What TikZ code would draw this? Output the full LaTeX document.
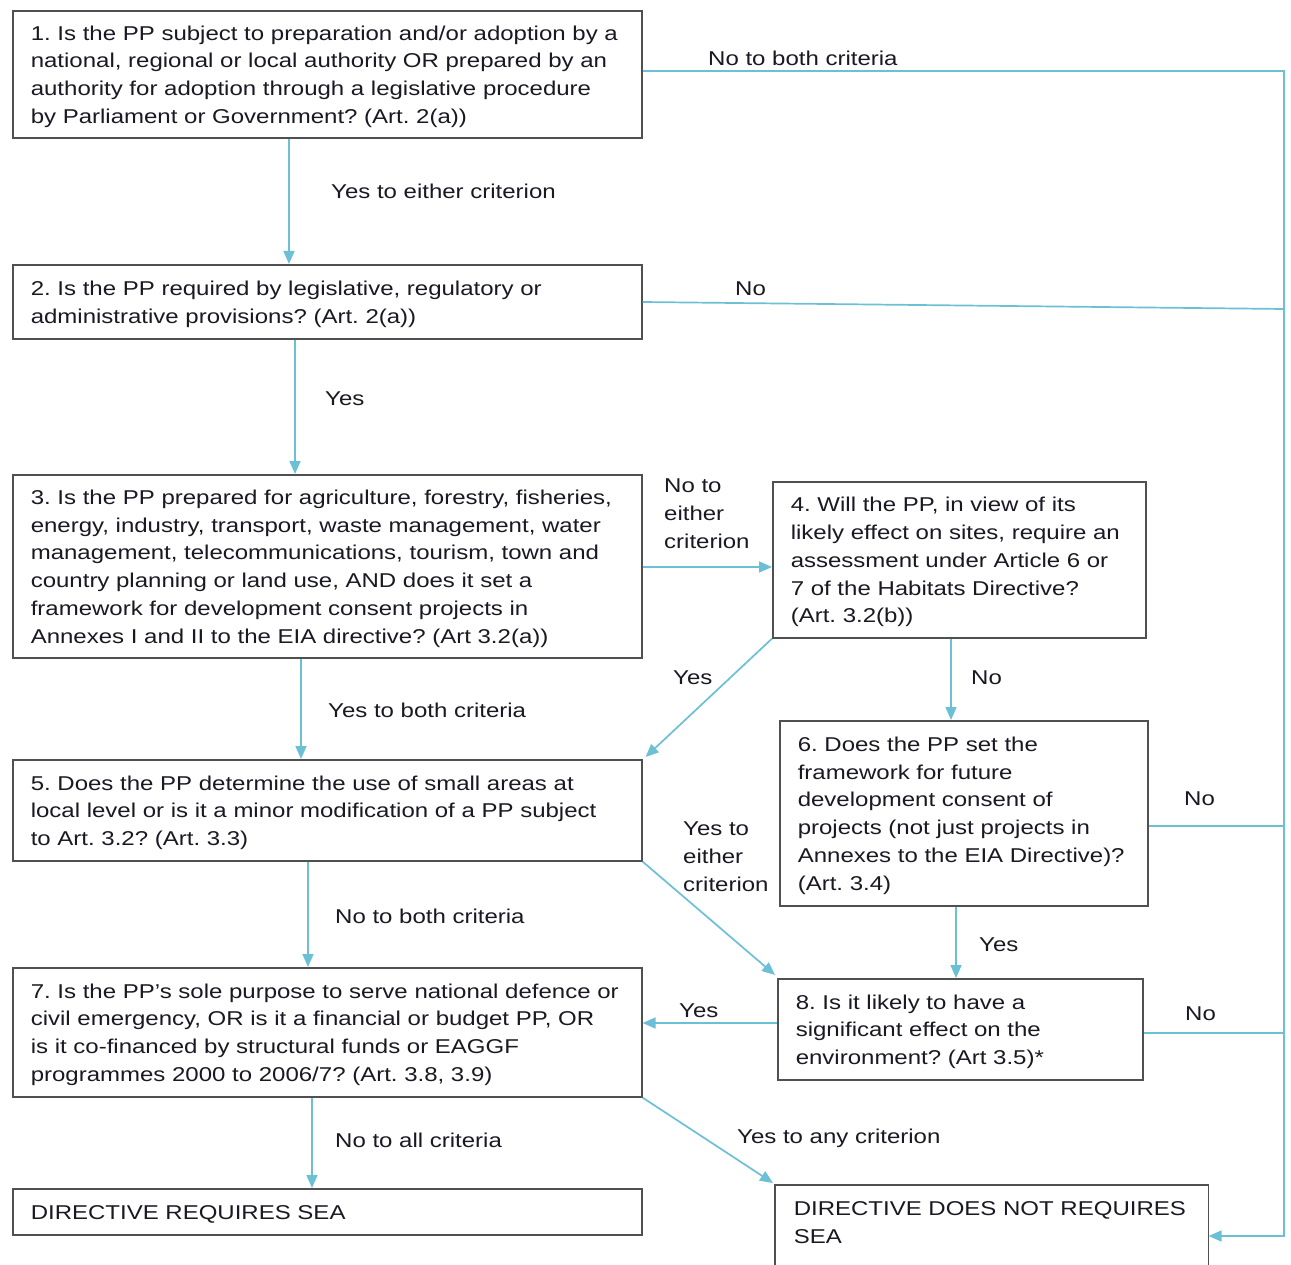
\documentclass[tikz,border=0pt]{standalone}
\usepackage{fontspec}
\setmainfont{Liberation Sans}[FakeStretch=1.2]
\usetikzlibrary{arrows.meta,calc}
\definecolor{lineblue}{RGB}{108,192,214}
\definecolor{boxgray}{RGB}{80,80,80}
\definecolor{txt}{RGB}{25,25,35}
\newcommand\boxtxt[2]{\raisebox{-2pt}[\height][\depth]{\makebox[#1][l]{\begin{tabular}{@{}l@{}}#2\end{tabular}}}}
\frenchspacing
\begin{document}
\begin{tikzpicture}[x=1pt,y=-1pt,
  font=\fontsize{20}{27.7}\selectfont\frenchspacing, text=txt,
  qbox/.style={draw=boxgray, line width=1.6pt, inner xsep=18pt, inner ysep=0pt, anchor=north west},
  conn/.style={draw=lineblue, line width=1.7pt},
  arr/.style={conn, -{Triangle[length=13pt,width=11pt]}},
  lbl/.style={inner sep=0pt, anchor=west}]
\useasboundingbox[fill=white] (0,0) rectangle (1291,1265);

% boxes
\node[qbox, minimum width=629pt, minimum height=127pt] (b1) at (12,10) {\boxtxt{593pt}{1. Is the PP subject to preparation and/or adoption by a\\national, regional or local authority OR prepared by an\\authority for adoption through a legislative procedure\\by Parliament or Government? (Art. 2(a))}};
\node[qbox, minimum width=629pt, minimum height=74pt] (b2) at (12,264) {\boxtxt{593pt}{2. Is the PP required by legislative, regulatory or\\administrative provisions? (Art. 2(a))}};
\node[qbox, minimum width=629pt, minimum height=183pt] (b3) at (12,474) {\boxtxt{593pt}{3. Is the PP prepared for agriculture, forestry, fisheries,\\energy, industry, transport, waste management, water\\management, telecommunications, tourism, town and\\country planning or land use, AND does it set a\\framework for development consent projects in\\Annexes I and II to the EIA directive? (Art 3.2(a))}};
\node[qbox, minimum width=373pt, minimum height=156pt] (b4) at (772,481) {\boxtxt{337pt}{4. Will the PP, in view of its\\likely effect on sites, require an\\assessment under Article 6 or\\7 of the Habitats Directive?\\(Art. 3.2(b))}};
\node[qbox, minimum width=629pt, minimum height=101pt] (b5) at (12,759) {\boxtxt{593pt}{5. Does the PP determine the use of small areas at\\local level or is it a minor modification of a PP subject\\to Art. 3.2? (Art. 3.3)}};
\node[qbox, minimum width=368pt, minimum height=185pt] (b6) at (779,720) {\boxtxt{332pt}{6. Does the PP set the\\framework for future\\development consent of\\projects (not just projects in\\Annexes to the EIA Directive)?\\(Art. 3.4)}};
\node[qbox, minimum width=629pt, minimum height=129pt] (b7) at (12,967) {\boxtxt{593pt}{7. Is the PP's sole purpose to serve national defence or\\civil emergency, OR is it a financial or budget PP, OR\\is it co-financed by structural funds or EAGGF\\programmes 2000 to 2006/7? (Art. 3.8, 3.9)}};
\node[qbox, minimum width=365pt, minimum height=101pt] (b8) at (777,978) {\boxtxt{329pt}{8. Is it likely to have a\\significant effect on the\\environment? (Art 3.5)*}};
\node[qbox, minimum width=629pt, minimum height=46pt] (b9) at (12,1188) {\boxtxt{593pt}{DIRECTIVE REQUIRES SEA}};
\node[qbox, draw=none, minimum width=432pt, minimum height=73pt] (b10) at (775,1185) {\boxtxt{396pt}{DIRECTIVE DOES NOT REQUIRES\\SEA}};
\draw[draw=boxgray, line width=1.6pt] (b10.north west |- 0,1275) -- (b10.north west) -- (b10.north east) -- (b10.north east |- 0,1275);

% right-hand collector line
\coordinate (rt) at (1284,71);
\coordinate (rb) at (1284,1236);
\draw[arr] (b1.east |- rt) -- (rt) -- (rb) -- (b10.east |- rb);
\draw[conn] (b2.east |- 0,302) -- (1284,309);
\draw[conn] (b6.east |- 0,826) -- (1284,826);
\draw[conn] (b8.east |- 0,1033) -- (1284,1033);

% vertical arrows
\draw[arr] (289,0 |- b1.south) -- (289,0 |- b2.north);
\draw[arr] (295,0 |- b2.south) -- (295,0 |- b3.north);
\draw[arr] (301,0 |- b3.south) -- (301,0 |- b5.north);
\draw[arr] (308,0 |- b5.south) -- (308,0 |- b7.north);
\draw[arr] (312,0 |- b7.south) -- (312,0 |- b9.north);
\draw[arr] (951,0 |- b4.south) -- (951,0 |- b6.north);
\draw[arr] (956,0 |- b6.south) -- (956,0 |- b8.north);

% horizontal arrows
\draw[arr] (b3.east |- 0,567) -- (b4.west |- 0,567);
\draw[arr] (b8.west |- 0,1023) -- (b7.east |- 0,1023);

% diagonal arrows
\draw[arr] (b4.south west) -- ($(b5.north east)+(3,-2)$);
\draw[arr] (b5.south east) -- ($(b8.north west)+(-2,-3)$);
\draw[arr] (b7.south east) -- ($(b10.north west)+(-2,-2)$);

% labels
\node[lbl] (l1) at (708,58) {No to both criteria};
\node[lbl] (l2) at (331,191) {Yes to either criterion};
\node[lbl] (l3) at (735,289) {No};
\node[lbl] (l4) at (325,399) {Yes};
\node[lbl] (l5) at (664,515) {\begin{tabular}{@{}l@{}}No to\\either\\criterion\end{tabular}};
\node[lbl] (l6) at (673,678) {Yes};
\node[lbl] (l7) at (971,678) {No};
\node[lbl] (l8) at (328,710) {Yes to both criteria};
\node[lbl] (l9) at (1184,799) {No};
\node[lbl] (l10) at (335,916) {No to both criteria};
\node[lbl] (l11) at (683,858) {\begin{tabular}{@{}l@{}}Yes to\\either\\criterion\end{tabular}};
\node[lbl] (l12) at (979,945) {Yes};
\node[lbl] (l13) at (679,1011) {Yes};
\node[lbl] (l14) at (1185,1014) {No};
\node[lbl] (l15) at (335,1140) {No to all criteria};
\node[lbl] (l16) at (737,1138) {Yes to any criterion};
\end{tikzpicture}
\end{document}
